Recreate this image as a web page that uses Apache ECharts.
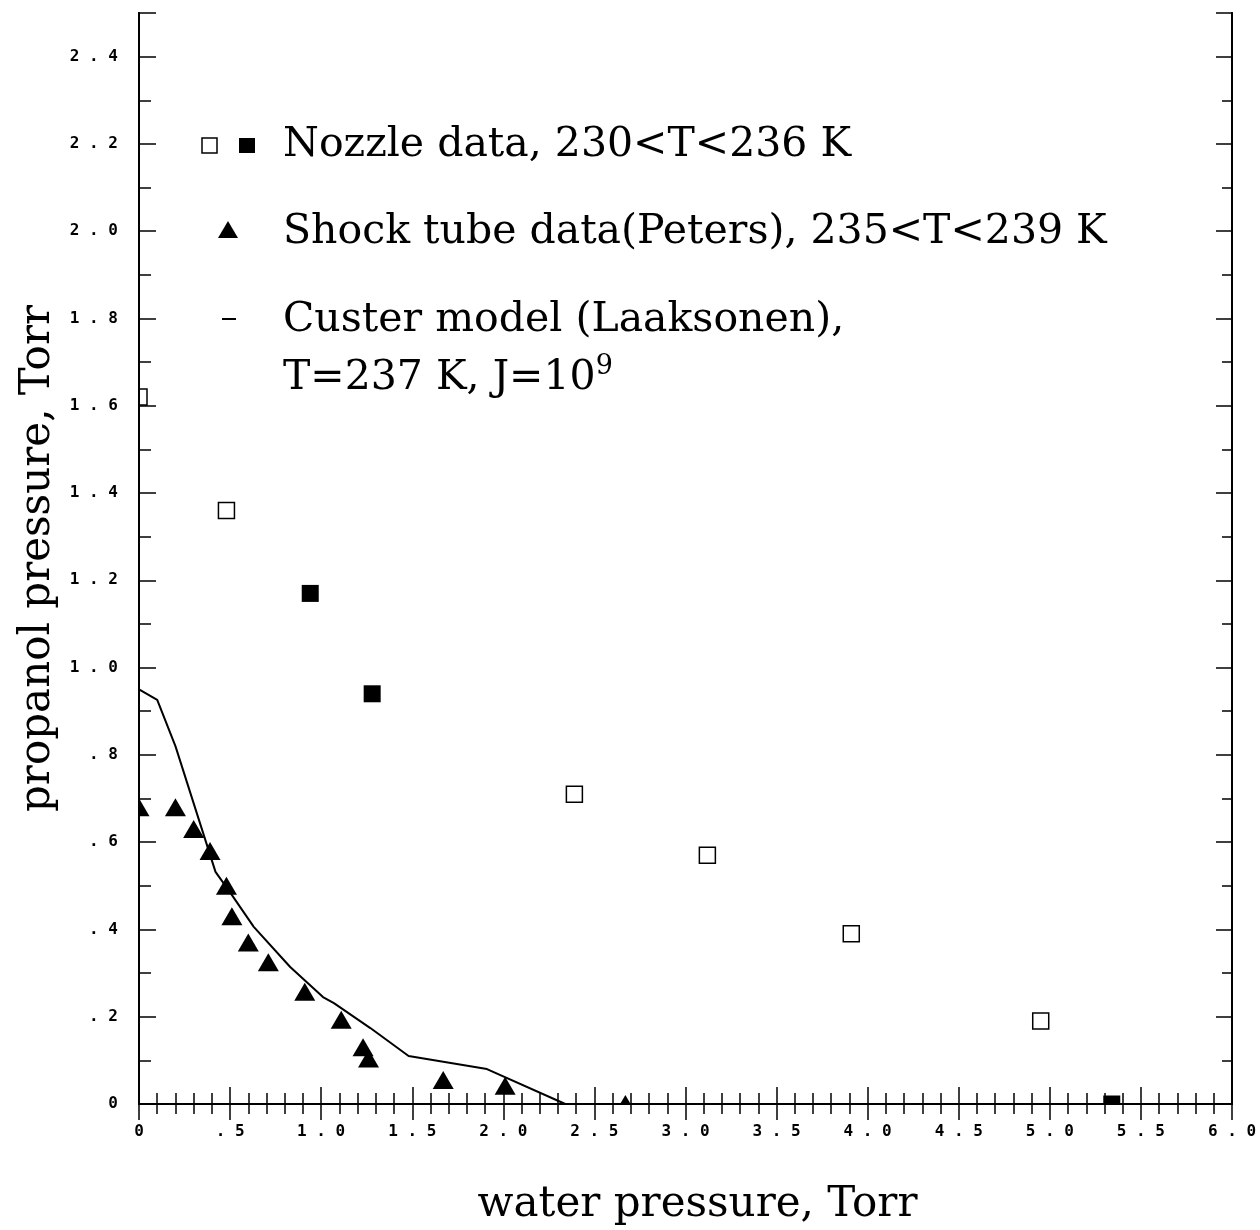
<!DOCTYPE html>
<html>
<head>
<meta charset="utf-8">
<script src="https://cdn.jsdelivr.net/npm/echarts@6/dist/echarts.min.js"></script>
<style>
  html, body { margin: 0; padding: 0; background: #fff; }
  #chart { width: 1260px; height: 1230px; }
</style>
</head>
<body>
<div id="chart"></div>
<script>
// nozzle data, open squares [water, propanol]
const nozzleOpen = [[0, 1.62], [0.48, 1.36], [2.39, 0.71], [3.12, 0.57], [3.91, 0.39], [4.95, 0.19]];
// nozzle data, filled squares
const nozzleFilled = [[0.94, 1.17], [1.28, 0.94], [5.34, 0]];
// shock tube data (Peters), triangles
const shockTube = [
  [0, 0.68], [0.2, 0.68], [0.3, 0.63], [0.39, 0.58], [0.48, 0.50], [0.51, 0.43],
  [0.60, 0.37], [0.71, 0.325], [0.91, 0.257], [1.11, 0.193], [1.23, 0.13],
  [1.26, 0.104], [1.67, 0.055], [2.01, 0.042], [2.67, 0]
];
// cluster model curve (Laaksonen)
const custerModel = [
  [0, 0.95], [0.1, 0.926], [0.2, 0.82], [0.42, 0.532], [0.5, 0.485], [0.63, 0.406],
  [0.83, 0.314], [1.01, 0.245], [1.07, 0.231], [1.27, 0.174], [1.48, 0.11],
  [1.91, 0.08], [2.34, 0]
];

const legendRows = [
  'Nozzle data, 230<T<236 K',
  'Shock tube data(Peters), 235<T<239 K',
  'Custer model (Laaksonen),',
  'T=237 K, J=10{sup|9}'
];

const tickFont = { fontFamily: 'DejaVu Sans Mono', fontWeight: 'bold', fontSize: 16, color: '#000' };
const nameFont = { fontFamily: 'DejaVu Serif', fontSize: 42, color: '#000' };
const blackLine = { color: '#000', width: 2 };
const tickLine = { color: '#000', width: 1.5 };

// "1.0" -> "1 . 0", "0.5" -> ". 5"
function spaced(v) {
  if (Math.abs(v) < 1e-9) return '0';
  let s = v.toFixed(1);
  if (s.charAt(0) === '0') s = s.slice(1);
  return s.split('').join(' ');
}

const chart = echarts.init(document.getElementById('chart'));

const baseY = { type: 'value', min: 0, max: 2.5, z: 10, splitLine: { show: false }, axisLine: { lineStyle: blackLine } };
const baseX = { type: 'value', min: 0, max: 6, interval: 0.5, z: 10, splitLine: { show: false }, axisLine: { lineStyle: blackLine } };

const option = {
  animation: false,
  backgroundColor: '#fff',
  grid: { left: 139, right: 28, top: 13, bottom: 126, outerBoundsMode: 'none' },
  xAxis: [
    Object.assign({}, baseX, {
      position: 'bottom',
      name: 'water pressure, Torr',
      nameLocation: 'middle',
      nameGap: 80,
      nameTextStyle: Object.assign({ padding: [0, 0, 0, 24] }, nameFont),
      axisTick: { inside: true, length: 17, lineStyle: tickLine },
      minorTick: { show: true, splitNumber: 5, length: 11, lineStyle: tickLine },
      axisLabel: Object.assign({ margin: 20, formatter: spaced }, tickFont)
    }),
    Object.assign({}, baseX, {
      position: 'top',
      axisTick: { inside: true, length: 16, lineStyle: tickLine },
      minorTick: { show: true, splitNumber: 5, length: 10, lineStyle: tickLine },
      axisLabel: { show: false }
    })
  ],
  yAxis: [
    Object.assign({}, baseY, {
      position: 'left',
      interval: 0.2,
      name: 'propanol pressure, Torr',
      nameLocation: 'middle',
      nameGap: 73,
      nameTextStyle: nameFont,
      axisTick: { inside: true, length: 17, lineStyle: tickLine },
      axisLabel: Object.assign({ margin: 21, formatter: v => (v > 2.45 ? '' : spaced(v)) }, tickFont)
    }),
    Object.assign({}, baseY, {
      position: 'left',
      interval: 0.1,
      axisTick: { inside: true, length: 12, lineStyle: tickLine },
      axisLabel: { show: false }
    }),
    Object.assign({}, baseY, {
      position: 'right',
      interval: 0.2,
      axisTick: { inside: true, length: 16, lineStyle: tickLine },
      axisLabel: { show: false }
    }),
    Object.assign({}, baseY, {
      position: 'right',
      interval: 0.1,
      axisTick: { inside: true, length: 10, lineStyle: tickLine },
      axisLabel: { show: false }
    })
  ],
  series: [
    {
      name: 'Custer model', type: 'line', data: custerModel, symbol: 'none', z: 1,
      lineStyle: { color: '#000', width: 2 }
    },
    {
      name: 'Nozzle open', type: 'scatter', data: nozzleOpen, symbol: 'rect', symbolSize: 16, clip: false, z: 2,
      itemStyle: { color: '#fff', borderColor: '#000', borderWidth: 1.5, opacity: 1 }
    },
    {
      name: 'Nozzle filled', type: 'scatter', data: nozzleFilled, symbol: 'rect', symbolSize: 17, clip: false, z: 2,
      itemStyle: { color: '#000', opacity: 1 }
    },
    {
      name: 'Shock tube', type: 'scatter', data: shockTube, symbol: 'triangle', symbolSize: [21, 18], clip: false, z: 2,
      itemStyle: { color: '#000', opacity: 1 }
    }
  ],
  graphic: [
    // white margins so markers sitting on the frame are cut like in the plot
    { type: 'rect', z: 5, silent: true, shape: { x: 0, y: 0, width: 138, height: 1230 }, style: { fill: '#fff' } },
    { type: 'rect', z: 5, silent: true, shape: { x: 0, y: 1105, width: 1260, height: 125 }, style: { fill: '#fff' } },
    // legend symbols
    { type: 'rect', z: 20, shape: { x: 202, y: 138, width: 15, height: 15 }, style: { fill: '#fff', stroke: '#000', lineWidth: 1.5 } },
    { type: 'rect', z: 20, shape: { x: 239, y: 138, width: 16, height: 15 }, style: { fill: '#000' } },
    { type: 'polygon', z: 20, shape: { points: [[228, 221], [218, 238], [238, 238]] }, style: { fill: '#000' } },
    { type: 'line', z: 20, shape: { x1: 222, y1: 319, x2: 236, y2: 319 }, style: { stroke: '#000', lineWidth: 2 } },
    // legend texts
    ...legendRows.map((t, i) => ({
      type: 'text', z: 20,
      style: {
        text: t, x: 283, y: [145, 232, 320, 378][i],
        fontFamily: 'DejaVu Serif', fontSize: 41, fill: '#000',
        verticalAlign: 'middle', align: 'left',
        rich: { sup: { fontFamily: 'DejaVu Serif', fontSize: 27, fill: '#000', verticalAlign: 'top', padding: [0, 0, 22, 0] } }
      }
    }))
  ]
};

chart.setOption(option);
</script>
</body>
</html>
